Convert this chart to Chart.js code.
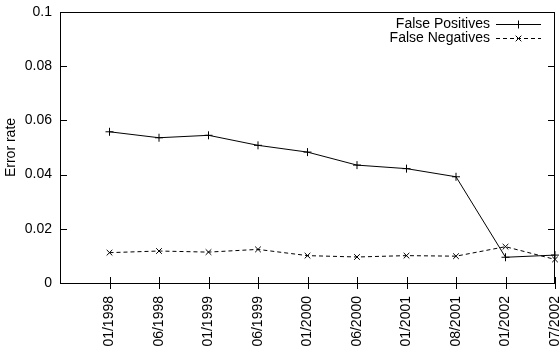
<!DOCTYPE html>
<html>
<head>
<meta charset="utf-8">
<script src="https://cdn.jsdelivr.net/npm/chart.js@4/dist/chart.umd.min.js"></script>
<style>
  html, body { margin: 0; padding: 0; background: #fff; }
  #wrap { width: 560px; height: 351px; }
</style>
</head>
<body>
<div id="wrap"><canvas id="chart" width="560" height="351"></canvas></div>
<script>
const periods = ['01/1998', '06/1998', '01/1999', '06/1999', '01/2000', '06/2000', '01/2001', '08/2001', '01/2002', '07/2002'];
const falsePositives = [0.0558, 0.0536, 0.0545, 0.0508, 0.0483, 0.0435, 0.0422, 0.0392, 0.0095, 0.0103];
const falseNegatives = [0.0112, 0.0118, 0.0114, 0.0124, 0.0101, 0.0096, 0.0101, 0.0099, 0.0134, 0.0087];
const yTicks = [0, 0.02, 0.04, 0.06, 0.08, 0.1];

const FONT = 'Liberation Sans, Arial, sans-serif';

// gnuplot style frame, inward ticks and the legend box in the upper right
const gnuplotFrame = {
    id: 'gnuplotFrame',
    afterDatasetsDraw(chart) {
        const ctx = chart.ctx;
        const a = chart.chartArea;
        const x = chart.scales.x, y = chart.scales.y;
        ctx.save();
        ctx.strokeStyle = '#000';
        ctx.lineWidth = 1;
        ctx.setLineDash([]);
        ctx.strokeRect(a.left + 0.5, a.top + 0.5, a.right - a.left - 1, a.bottom - a.top);
        ctx.beginPath();
        yTicks.forEach(v => {
            const py = Math.round(y.getPixelForValue(v)) + 0.5;
            ctx.moveTo(a.left, py); ctx.lineTo(a.left + 7, py);
            ctx.moveTo(a.right - 7, py); ctx.lineTo(a.right, py);
        });
        periods.forEach((p, i) => {
            const px = Math.round(x.getPixelForValue(i)) + 0.5;
            ctx.moveTo(px, a.bottom - 6); ctx.lineTo(px, a.bottom + 6);
        });
        ctx.stroke();

        // legend
        ctx.font = '14px ' + FONT;
        ctx.fillStyle = '#000';
        ctx.textAlign = 'right';
        ctx.textBaseline = 'middle';
        chart.data.datasets.forEach((ds, i) => {
            const ly = 24 + i * 14;
            ctx.fillText(ds.label, 490, ly);
            ctx.beginPath();
            ctx.setLineDash(ds.borderDash || []);
            ctx.moveTo(496, ly + 0.5); ctx.lineTo(541, ly + 0.5);
            ctx.stroke();
            ctx.setLineDash([]);
            Chart.helpers.drawPoint(ctx, {
                pointStyle: ds.pointStyle, radius: ds.pointRadius,
                borderWidth: 1, rotation: 0
            }, 518.5, ly + 0.5);
        });
        ctx.restore();
    }
};

new Chart(document.getElementById('chart').getContext('2d'), {
    type: 'line',
    data: {
        datasets: [{
            label: 'False Positives',
            data: falsePositives.map((v, i) => ({ x: i, y: v })),
            borderColor: '#000',
            backgroundColor: '#000',
            borderWidth: 1,
            pointStyle: 'cross',
            pointRadius: 4,
            pointBorderWidth: 1,
            tension: 0,
            clip: false
        }, {
            label: 'False Negatives',
            data: falseNegatives.map((v, i) => ({ x: i, y: v })),
            borderColor: '#000',
            backgroundColor: '#000',
            borderWidth: 1,
            borderDash: [4, 3],
            pointStyle: 'crossRot',
            pointRadius: 4,
            pointBorderWidth: 1,
            tension: 0,
            clip: false
        }]
    },
    options: {
        responsive: false,
        animation: false,
        layout: { padding: { top: 12, right: 2, left: 0, bottom: 0 } },
        plugins: { legend: { display: false }, tooltip: { enabled: false } },
        scales: {
            x: {
                type: 'linear',
                min: -1,
                max: 9,
                grid: { display: false, drawTicks: false },
                border: { display: false },
                afterBuildTicks: axis => { axis.ticks = periods.map((p, i) => ({ value: i })); },
                afterFit: axis => {
                    axis.height = 68;
                    axis.paddingLeft = 0;
                    axis.paddingRight = 0;
                },
                ticks: {
                    autoSkip: false,
                    minRotation: 90,
                    maxRotation: 90,
                    padding: 13,
                    color: '#000',
                    font: { family: FONT, size: 14 },
                    callback: v => periods[v]
                }
            },
            y: {
                min: 0,
                max: 0.1,
                grid: { display: false, drawTicks: false },
                border: { display: false },
                afterBuildTicks: axis => { axis.ticks = yTicks.map(v => ({ value: v })); },
                afterFit: axis => {
                    axis.width = 60;
                    axis.paddingTop = 0;
                    axis.paddingBottom = 0;
                },
                title: {
                    display: true,
                    text: 'Error rate',
                    color: '#000',
                    font: { family: FONT, size: 14 },
                    padding: { top: 3, bottom: 0 }
                },
                ticks: {
                    padding: 8,
                    color: '#000',
                    font: { family: FONT, size: 14 },
                    callback: v => String(+v.toFixed(2))
                }
            }
        }
    },
    plugins: [gnuplotFrame]
});
</script>
</body>
</html>
